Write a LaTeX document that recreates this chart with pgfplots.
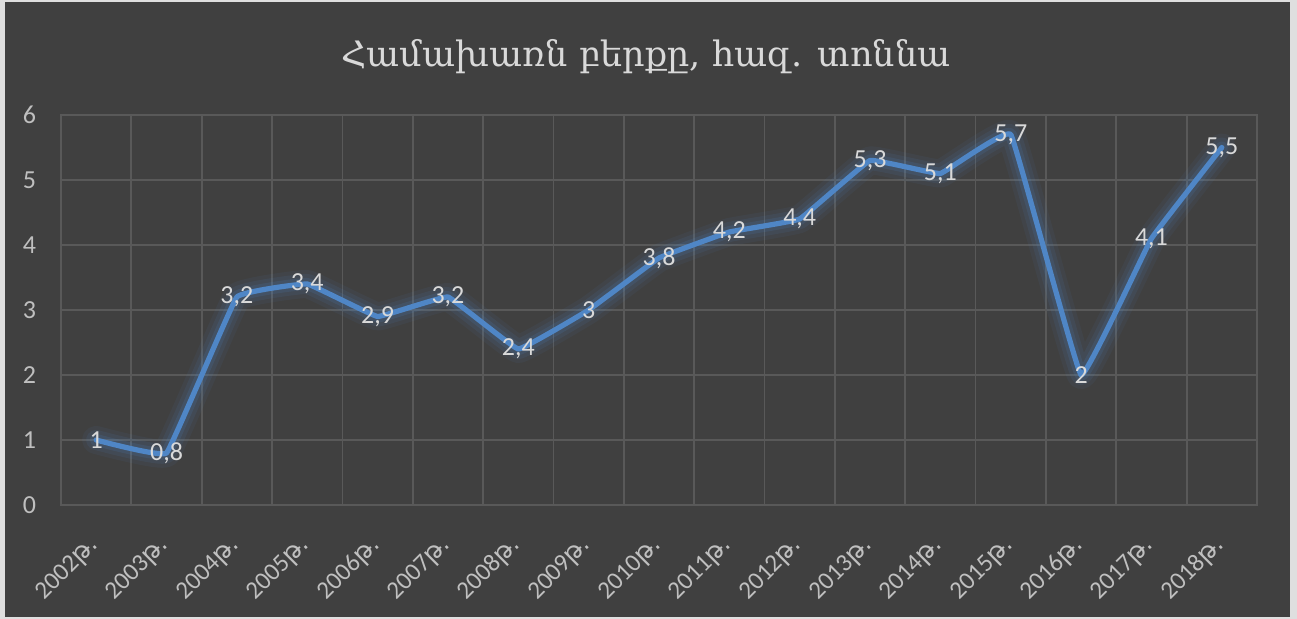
\documentclass[border=0pt]{standalone}
\usepackage{pgfplots}
\usepackage{pgfplotstable}
\pgfplotsset{compat=1.18}
\usepackage{fontspec}
\setmainfont{Carlito}
\newfontfamily\armsans{DejaVu Sans}
\newfontfamily\armserif{DejaVu Serif}
\definecolor{bg}{HTML}{404040}
\definecolor{gridc}{HTML}{595959}
\definecolor{txt}{HTML}{D9D9D9}
\definecolor{tickc}{HTML}{BFBFBF}
\definecolor{linec}{HTML}{4F86C6}
\pgfplotstableread{
x y
0 1
1 0.8
2 3.2
3 3.4
4 2.9
5 3.2
6 2.4
7 3
8 3.8
9 4.2
10 4.4
11 5.3
12 5.1
13 5.7
14 2
15 4.1
16 5.5
}\datatable
\begin{document}
\begin{tikzpicture}
\fill[gray!25] (0,0) rectangle (648.5pt,309.5pt);
\fill[bg] (2.5pt,1pt) rectangle (645pt,308.5pt);
\useasboundingbox (0,0) rectangle (648.5pt,309.5pt);
\node[text=txt, font=\armserif\fontsize{17.5}{20}\selectfont] at (323pt,281pt) {Համախառն բերքը, հազ. տոննա};
\begin{axis}[
  at={(30.5pt,57pt)}, anchor=south west,
  scale only axis, width=598pt, height=195pt,
  xmin=-0.5, xmax=16.5, ymin=0, ymax=6,
  xtick={0,...,16},
  xticklabels={2002{\armsans թ.},2003{\armsans թ.},2004{\armsans թ.},2005{\armsans թ.},2006{\armsans թ.},2007{\armsans թ.},2008{\armsans թ.},2009{\armsans թ.},2010{\armsans թ.},2011{\armsans թ.},2012{\armsans թ.},2013{\armsans թ.},2014{\armsans թ.},2015{\armsans թ.},2016{\armsans թ.},2017{\armsans թ.},2018{\armsans թ.}},
  minor xtick={-0.5,0.5,...,16.5},
  ytick={0,1,...,6},
  xminorgrids=true, ymajorgrids=true,
  grid style={gridc, line width=0.9pt},
  minor grid style={gridc, line width=0.9pt},
  axis line style={gridc, line width=0.9pt},
  major tick length=0pt, minor tick length=0pt,
  tick style={draw=none},
  yticklabel style={text=tickc, font=\fontsize{13}{15}\selectfont, xshift=-9pt},
  xticklabel style={text=tickc, font=\fontsize{12.5}{15}\selectfont, xshift=2pt, yshift=-16pt, rotate=45, anchor=east},
  /pgf/number format/assume math mode=true,
  clip=false,
]
\addplot[linec, line width=14pt, opacity=0.07, smooth, tension=0.12, line join=round, line cap=round] table[x=x,y=y] {\datatable};
\addplot[linec, line width=10pt, opacity=0.10, smooth, tension=0.12, line join=round, line cap=round] table[x=x,y=y] {\datatable};
\addplot[linec, line width=6pt, opacity=0.15, smooth, tension=0.12, line join=round, line cap=round] table[x=x,y=y] {\datatable};
\addplot[linec, line width=2.6pt, smooth, tension=0.12, line join=round, line cap=round,
  nodes near coords, point meta=explicit,
  every node near coord/.style={anchor=center, text=txt, font=\fontsize{13}{15}\selectfont, /pgf/number format/use comma, /pgf/number format/assume math mode=true}
] table[x=x,y=y,meta=y] {\datatable};
\end{axis}
\end{tikzpicture}
\end{document}
